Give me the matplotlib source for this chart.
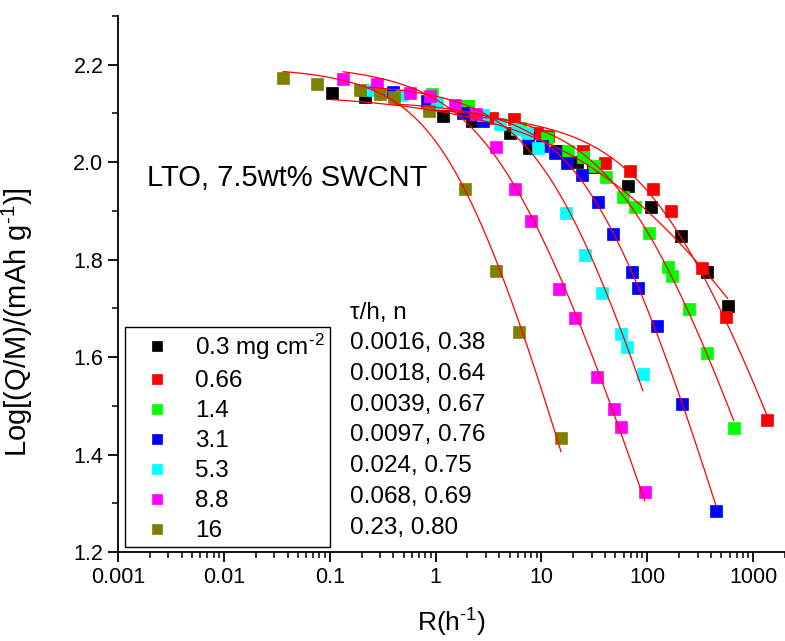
import numpy as np
import matplotlib
matplotlib.use("Agg")
import matplotlib.pyplot as plt
from matplotlib.ticker import LogLocator, NullFormatter, FixedLocator, MultipleLocator

plt.rcParams["font.family"] = ["Liberation Sans", "DejaVu Sans"]
plt.rcParams["mathtext.fontset"] = "custom"
plt.rcParams["mathtext.rm"] = "Liberation Sans"
plt.rcParams["mathtext.it"] = "Liberation Sans:italic"
plt.rcParams["mathtext.default"] = "regular"

# loading (mg cm-2) and the fit parameters from the legend
loadings = ["0.3 mg cm$^{\u20102}$", "0.66", "1.4", "3.1", "5.3", "8.8", "16"]
taus = [0.0016, 0.0018, 0.0039, 0.0097, 0.024, 0.068, 0.23]
ns = [0.38, 0.64, 0.67, 0.76, 0.75, 0.69, 0.80]
fit_labels = ["0.0016, 0.38", "0.0018, 0.64", "0.0039, 0.67", "0.0097, 0.76",
              "0.024, 0.75", "0.068, 0.69", "0.23, 0.80"]
colors = ["#000000", "#FF0000", "#00FF00", "#0000FF", "#00FFFF", "#FF00FF", "#808000"]

# rate R (1/h) and log capacity
R_03 = [0.106, 0.216, 1.18, 2.21, 5.05, 7.62, 14.0, 21.6, 30.6, 65.5, 108, 207, 364, 574]
Q_03 = [2.143, 2.133, 2.094, 2.085, 2.059, 2.030, 2.024, 2.000, 1.991, 1.951, 1.908, 1.848, 1.775, 1.705]
R_066 = [2.03, 3.41, 5.50, 9.07, 11.5, 24.6, 39.7, 68.4, 113, 167, 327, 550, 1340]
Q_066 = [2.116, 2.090, 2.088, 2.059, 2.053, 2.024, 1.998, 1.981, 1.944, 1.899, 1.783, 1.683, 1.470]
R_14 = [0.927, 2.03, 6.27, 11.3, 17.8, 24.6, 31.3, 40.6, 58.7, 76.2, 103, 156, 170, 247, 364, 655]
Q_14 = [2.141, 2.116, 2.071, 2.049, 2.022, 2.010, 1.993, 1.969, 1.928, 1.908, 1.854, 1.785, 1.766, 1.699, 1.609, 1.454]
R_31 = [0.397, 0.831, 1.82, 2.81, 7.46, 10.1, 13.4, 17.4, 24.1, 34.1, 47.3, 71.4, 81.3, 123, 212, 443]
Q_31 = [2.145, 2.126, 2.102, 2.085, 2.049, 2.034, 2.018, 1.998, 1.973, 1.918, 1.852, 1.775, 1.742, 1.664, 1.503, 1.284]
R_53 = [0.231, 0.483, 1.03, 2.81, 4.06, 5.87, 7.30, 9.27, 17.0, 25.7, 37.2, 56.2, 64.1, 90.8]
Q_53 = [2.149, 2.137, 2.122, 2.096, 2.079, 2.069, 2.059, 2.030, 1.895, 1.809, 1.732, 1.648, 1.621, 1.566]
R_88 = [0.134, 0.281, 0.574, 0.887, 1.53, 2.41, 3.72, 5.62, 7.96, 14.6, 20.7, 33.4, 48.3, 56.2, 94.6]
Q_88 = [2.171, 2.161, 2.143, 2.135, 2.118, 2.098, 2.032, 1.946, 1.879, 1.740, 1.681, 1.560, 1.494, 1.456, 1.323]
R_16 = [0.0364, 0.0762, 0.194, 0.299, 0.406, 0.868, 1.90, 3.72, 6.13, 15.3]
Q_16 = [2.173, 2.161, 2.149, 2.141, 2.133, 2.106, 1.944, 1.777, 1.652, 1.433]

rates = [R_03, R_066, R_14, R_31, R_53, R_88, R_16]
caps = [Q_03, Q_066, Q_14, Q_31, Q_53, Q_88, Q_16]


def rate_model(R, tau, n):
    x = (R * tau) ** n
    return 1 - x * (1 - np.exp(-1 / x))


fig = plt.figure(figsize=(7.85, 6.41), dpi=100)
ax = fig.add_axes([0.1503, 0.1388, 0.8497, 0.8362])

for R, Q, c, lab in zip(rates, caps, colors, loadings):
    ax.plot(R, Q, ls="none", marker="s", ms=8.5, mec=c, mfc=c, mew=0.5, label=lab, zorder=2)

# fit lines: tau and n from the legend, only the plateau level is fitted
for R, Q, tau, n in zip(rates, caps, taus, ns):
    R = np.array(R)
    Q = np.array(Q)
    logqm = np.mean(Q - np.log10(rate_model(R, tau, n)))
    rr = np.logspace(np.log10(R.min()), np.log10(R.max()), 300)
    ax.plot(rr, logqm + np.log10(rate_model(rr, tau, n)), color="red", lw=0.9, zorder=3)

ax.set_xscale("log")
ax.set_xlim(0.001, 2000)
ax.set_ylim(1.2, 2.3)
ax.xaxis.set_major_locator(FixedLocator([0.001, 0.01, 0.1, 1, 10, 100, 1000]))
ax.set_xticklabels(["0.001", "0.01", "0.1", "1", "10", "100", "1000"])
ax.xaxis.set_minor_locator(LogLocator(base=10, subs=np.arange(2, 10)))
ax.xaxis.set_minor_formatter(NullFormatter())
ax.yaxis.set_major_locator(MultipleLocator(0.2))
ax.yaxis.set_minor_locator(MultipleLocator(0.1))

for side in ["top", "right"]:
    ax.spines[side].set_visible(False)
for side in ["left", "bottom"]:
    ax.spines[side].set_linewidth(1.3)
ax.tick_params(which="major", direction="out", length=7, width=1.3, labelsize=15.5)
ax.tick_params(which="minor", direction="out", length=4, width=1.1)

ax.set_xlabel("R(h$^{\u20101}$)", fontsize=19, labelpad=14)
ax.set_ylabel("Log[(Q/M)/(mAh g$^{\u20101}$)]", fontsize=21)
ax.yaxis.set_label_coords(-0.124, 0.43)

ax.text(0.0435, 0.698, "LTO, 7.5wt% SWCNT", transform=ax.transAxes, fontsize=21, va="center")

leg = ax.legend(loc="lower left", bbox_to_anchor=(0.0105, 0.0093), fontsize=17.5,
                frameon=True, fancybox=False, edgecolor="black", framealpha=1,
                handlelength=2.2, handletextpad=0.5, labelspacing=0.33,
                borderpad=0.2, borderaxespad=0, markerscale=0.8)
leg.get_frame().set_linewidth(1.0)

ax.text(0.348, 0.446, "\u03c4/h, n", transform=ax.transAxes, fontsize=17.5, va="center")
for i, s in enumerate(fit_labels):
    ax.text(0.348, 0.390 - i * 0.0575, s, transform=ax.transAxes, fontsize=17.5, va="center")

fig.savefig("out.png", dpi=100)
